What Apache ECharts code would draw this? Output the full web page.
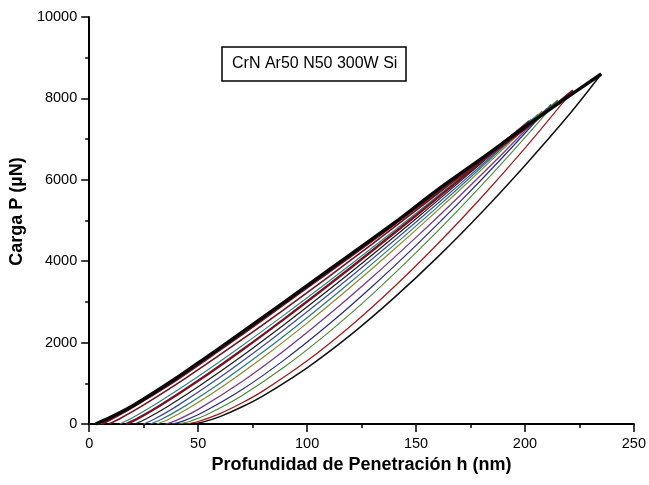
<!DOCTYPE html>
<html><head><meta charset="utf-8">
<script src="https://cdn.jsdelivr.net/npm/echarts@6/dist/echarts.min.js"></script>
<style>html,body{margin:0;padding:0;background:#fff}#c{width:649px;height:485px}</style>
</head><body><div id="c"></div>
<script>
// ---- data (h in nm, P in µN) ----
const titleText = 'CrN Ar50 N50 300W Si';
const xAxisName = 'Profundidad de Penetración h (nm)';
const yAxisName = 'Carga P (µN)';
const xTickValues = [0, 50, 100, 150, 200, 250];
const yTickValues = [0, 2000, 4000, 6000, 8000, 10000];

// lower (unloading-like) fan of curves
const curveH47 = [[47,0],[52,46],[60,182],[70,417],[80,698],[100,1381],[120,2189],[140,3104],[160,4107],[180,5193],[200,6354],[220,7585],[235,8600]];
const curveH44 = [[44,0],[50,62],[60,256],[70,514],[80,820],[100,1552],[120,2408],[140,3372],[160,4428],[180,5565],[200,6780],[222,8200]];
const curveH41 = [[41,0],[46,64],[55,258],[70,695],[90,1419],[110,2259],[130,3193],[150,4209],[170,5292],[190,6438],[215,7950]];
const curveH38 = [[38,0],[43,72],[52,282],[70,840],[90,1594],[110,2449],[130,3385],[150,4389],[170,5451],[190,6567],[212,7850]];
const curveH35 = [[35,0],[40,91],[50,359],[70,1036],[90,1824],[110,2688],[130,3611],[150,4585],[170,5603],[190,6660],[210,7750]];
const curveH31 = [[31,0],[36,106],[45,366],[60,876],[80,1645],[100,2479],[120,3365],[140,4292],[160,5254],[180,6246],[208,7680]];
const curveH28 = [[28,0],[33,112],[42,378],[60,1003],[80,1779],[100,2612],[120,3488],[140,4400],[160,5341],[180,6308],[206,7600]];
const curveH25 = [[25,0],[30,123],[40,433],[60,1148],[80,1930],[100,2759],[120,3620],[140,4510],[160,5423],[180,6357],[205,7550]];
const curveH21 = [[21,0],[26,122],[36,429],[50,913],[70,1664],[90,2463],[110,3297],[130,4159],[150,5044],[170,5949],[203,7480]];
const curveH17 = [[17,0],[22,126],[32,435],[50,1061],[70,1812],[90,2602],[110,3420],[130,4262],[150,5124],[170,6003],[202,7440]];
const curveH14 = [[14,0],[19,128],[30,472],[50,1169],[70,1918],[90,2700],[110,3507],[130,4335],[150,5180],[170,6041],[201,7400]];
const curveH09 = [[9,0],[14,129],[25,469],[45,1153],[70,2071],[90,2836],[110,3623],[130,4428],[150,5248],[170,6080],[200,7350]];

// upper band (loading curves, overlapping)
const bandGreen = [[4,0],[18,360],[35,920],[55,1660],[75,2420],[95,3180],[115,3950],[135,4720],[155,5520],[175,6300],[195,7060],[215,7950]];
const bandOlive = [[5,0],[14,250],[28,700],[45,1300],[65,2030],[85,2800],[105,3560],[125,4330],[145,5110],[165,5900],[185,6650],[208,7680]];
const bandTeal  = [[4,0],[12,210],[22,500],[35,930],[50,1470],[70,2230],[90,3000],[110,3760],[130,4540],[150,5330],[170,6100],[190,6880],[206,7600]];
const bandRed   = [[6,0],[15,260],[25,580],[40,1080],[60,1820],[80,2580],[100,3350],[120,4120],[140,4900],[160,5700],[180,6460],[200,7250],[222,8200]];
const bandBlack = [[3,0],[10,170],[20,450],[30,780],[40,1130],[50,1500],[60,1870],[80,2630],[100,3400],[120,4170],[140,4940],[160,5760],[180,6520],[200,7300],[220,8050],[235,8600]];

// ---- styles ----
const seriesDefs = [
  {d: curveH09, c: '#6a1420', w: 1.6},
  {d: curveH14, c: '#2f8585', w: 1.2},
  {d: curveH17, c: '#7a1020', w: 2.4},
  {d: curveH21, c: '#1a1a1a', w: 1.2},
  {d: curveH25, c: '#3a4aa0', w: 1.2},
  {d: curveH28, c: '#2a7a7a', w: 1.2},
  {d: curveH31, c: '#8a8a30', w: 1.2},
  {d: curveH35, c: '#7a3a8a', w: 1.3},
  {d: curveH38, c: '#2a2a80', w: 1.2},
  {d: curveH41, c: '#4a8a3a', w: 1.1},
  {d: curveH44, c: '#a01818', w: 1.2},
  {d: curveH47, c: '#111111', w: 1.5},
  {d: bandGreen, c: '#3a7a3a', w: 1.5},
  {d: bandOlive, c: '#7a7a2a', w: 1.5},
  {d: bandTeal,  c: '#2a8a8a', w: 1.5},
  {d: bandRed,   c: '#7a1020', w: 2.2},
  {d: bandBlack, c: '#0a0a0a', w: 3.4}
];

const FONT = 'Liberation Sans, Arial, sans-serif';
const chart = echarts.init(document.getElementById('c'), null, {renderer: 'canvas'});
chart.setOption({
  animation: false,
  backgroundColor: '#fff',
  title: {
    text: titleText,
    left: 222, top: 47,
    padding: [9, 9, 9, 10],
    borderColor: '#000', borderWidth: 1.5,
    textStyle: {fontFamily: FONT, fontSize: 16, fontWeight: 'normal', color: '#000'}
  },
  grid: {left: 86, right: 13, top: 17, bottom: 61},
  xAxis: {
    type: 'value', min: xTickValues[0], max: xTickValues[xTickValues.length - 1], interval: 50,
    name: xAxisName, nameLocation: 'middle', nameGap: 30,
    nameTextStyle: {fontFamily: FONT, fontSize: 18, fontWeight: 'bold', color: '#000'},
    axisLine: {lineStyle: {color: '#000', width: 2}},
    axisTick: {inside: false, length: 8, lineStyle: {color: '#000', width: 1.5}},
    minorTick: {show: true, splitNumber: 2, length: 4, lineStyle: {color: '#000', width: 1.5}},
    axisLabel: {fontFamily: FONT, fontSize: 14.5, color: '#000', margin: 12},
    splitLine: {show: false}
  },
  yAxis: {
    type: 'value', min: yTickValues[0], max: yTickValues[yTickValues.length - 1], interval: 2000,
    name: yAxisName, nameLocation: 'middle', nameGap: 57, nameRotate: 90,
    nameTextStyle: {fontFamily: FONT, fontSize: 18, fontWeight: 'bold', color: '#000', padding: [0, 0, 0, 18]},
    axisLine: {show: true, lineStyle: {color: '#000', width: 2}},
    axisTick: {show: true, inside: false, length: 8, lineStyle: {color: '#000', width: 1.5}},
    minorTick: {show: true, splitNumber: 2, length: 4, lineStyle: {color: '#000', width: 1.5}},
    axisLabel: {fontFamily: FONT, fontSize: 14.5, color: '#000', margin: 12, formatter: v => String(v)},
    splitLine: {show: false}
  },
  series: seriesDefs.map(s => ({
    type: 'line', data: s.d, smooth: 0.35, symbol: 'none',
    lineStyle: {color: s.c, width: s.w}, silent: true
  }))
});
</script></body></html>
